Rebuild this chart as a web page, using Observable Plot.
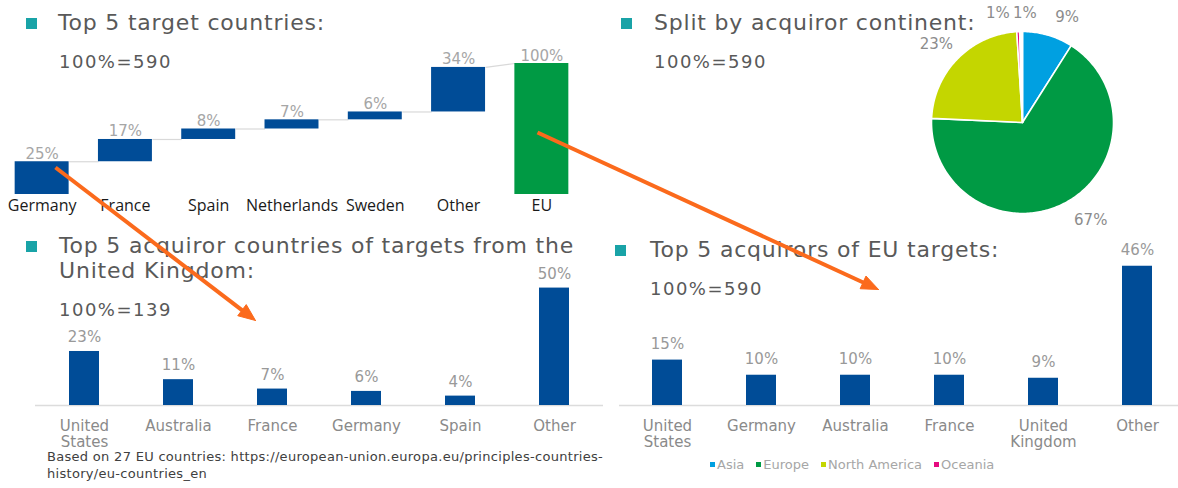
<!DOCTYPE html>
<html><head><meta charset="utf-8">
<script src="https://cdn.jsdelivr.net/npm/d3@7"></script>
<script src="https://cdn.jsdelivr.net/npm/@observablehq/plot@0.6"></script>
<style>
html,body{margin:0;padding:0;background:#fff;}
#page{position:relative;width:1178px;height:488px;overflow:hidden;font-family:"DejaVu Sans",sans-serif;background:#fff;}
#page > *{position:absolute;}
.title{font-size:22px;line-height:25px;letter-spacing:0.8px;color:#595959;white-space:nowrap;}
.bullet{width:11px;height:11px;background:#19a3a7;}
.sub{font-size:18px;line-height:22px;letter-spacing:1.5px;color:#595959;white-space:nowrap;}
.caption{font-size:13px;line-height:15px;letter-spacing:0.3px;color:#404040;white-space:nowrap;}
.legend{font-size:13px;line-height:15px;color:#a6a6a6;display:flex;align-items:center;white-space:nowrap;}
.legend .item{display:flex;align-items:center;margin-right:12px;}
.legend .sw{display:inline-block;width:5px;height:5px;margin-right:2px;}
</style></head><body><div id="page"></div><script>
// ---------- data ----------
const waterfallCategories = ["Germany","France","Spain","Netherlands","Sweden","Other","EU"];
const waterfallValues = [25,17,8,7,6,34,100];
const waterfallIsTotal = [false,false,false,false,false,false,true];

const continentNames = ["Asia","Europe","North America","Oceania","Other"];
const continentShares = [9, 66.8, 23.3, 0.5, 0.5];
const continentLabels = ["9%","67%","23%","1%","1%"];
const legendNames = ["Asia","Europe","North America","Oceania"];

const ukAcquirorCountries = ["United States","Australia","France","Germany","Spain","Other"];
const ukAcquirorShares = [23,11,7,6,4,50];

const euAcquirorCountries = ["United States","Germany","Australia","France","United Kingdom","Other"];
const euAcquirorShares = [15,10,10,10,9,46];

const titleLines = [["Top 5 target countries:"],["Split by acquiror continent:"],["Top 5 acquiror countries of targets from the","United Kingdom:"],["Top 5 acquirors of EU targets:"]];
const subtitleTexts = ["100%=590","100%=590","100%=139","100%=590"];
const captionLines = ["Based on 27 EU countries: https://european-union.europa.eu/principles-countries-","history/eu-countries_en"];

// ---------- styling ----------
const BLUE = "#004c97", GREEN = "#009a44";
const continentColors = ["#00a0e1", "#009a44", "#c4d600", "#e6097f", "#ffffff"];
const ORANGE = "#fb6a1c";
const svgStyle = {overflow:"visible", background:"transparent", fontFamily:"DejaVu Sans"};

const page = document.getElementById("page");
function place(el, left, top){ el.style.left = left+"px"; el.style.top = top+"px"; page.appendChild(el); return el; }

// ---------- panel 1: waterfall ----------
const hw = 0.324;
let cum = 0;
const wf = waterfallCategories.map((c,i) => {
  const total = waterfallIsTotal[i];
  const y1 = total ? 0 : cum;
  const y2 = total ? waterfallValues[i] : cum + waterfallValues[i];
  if (!total) cum = y2;
  return {i, c, y1, y2, kind: total ? "total" : "step", label: waterfallValues[i] + "%"};
});
const connectors = wf.slice(0,-1).map((d,k) => {
  const n = wf[k+1];
  return {x1: d.i + hw, x2: n.i - hw, ya: d.y2, yb: n.kind === "total" ? n.y2 : n.y1};
});
const p1 = Plot.plot({
  width: 583, height: 180, marginLeft: 0, marginRight: 0, marginTop: 23, marginBottom: 26,
  x: {domain: [-0.5, 6.5], label: null},
  y: {domain: [0, 100], axis: null},
  color: {domain: ["step","total"], range: [BLUE, GREEN]},
  style: svgStyle,
  marks: [
    Plot.link(connectors, {x1: "x1", x2: "x2", y1: "ya", y2: "yb", stroke: "#d9d9d9", strokeWidth: 1.2}),
    Plot.rect(wf, {x1: d => d.i - hw, x2: d => d.i + hw, y1: "y1", y2: "y2", fill: "kind"}),
    Plot.text(wf, {x: "i", y: "y2", text: "label", dy: -3, lineAnchor: "bottom", fill: "#a6a6a6", fontSize: 15}),
    Plot.axisX({ticks: wf.map(d => d.i), tickFormat: i => waterfallCategories[i], label: null, tickSize: 0, tickPadding: 5, fontSize: 16, fontFamily: "Open Sans", fill: "#1a1a1a"})
  ]
});
place(p1, 0, 40);

// ---------- panel 2: pie ----------
const pie = d3.pie().sort(null).value(d => d)(continentShares);
const piePts = [];
pie.forEach((p,k) => {
  const name = continentNames[k];
  piePts.push({name, x: 0, y: 0});
  const n = Math.max(2, Math.ceil((p.endAngle - p.startAngle) / (Math.PI/180)));
  for (let j = 0; j <= n; j++) {
    const a = p.startAngle + (p.endAngle - p.startAngle) * j / n;
    piePts.push({name, x: Math.sin(a), y: Math.cos(a)});
  }
  piePts.push({name, x: 0, y: 0});
});
const PIE_W = 298, PIE_H = 240, CX = 142, CY = 122, R = 91, LBL_OFF = 12;
const ctx = document.createElement("canvas").getContext("2d");
ctx.font = "15px 'DejaVu Sans'";
const pieLabels = pie.map((p,k) => {
  const m = (p.startAngle + p.endAngle) / 2;
  const ax = CX + (R + LBL_OFF) * Math.sin(m), ay = CY - (R + LBL_OFF) * Math.cos(m);
  const w = ctx.measureText(continentLabels[k]).width, h = 12;
  const x0 = Math.sin(m) >= 0 ? ax : ax - w;
  const yc = Math.cos(m) >= 0 ? ay - h/2 : ay + h/2;
  return {label: continentLabels[k], x0, w, yc, h};
});
for (let pass = 0; pass < 5; pass++) {
  for (let i = 0; i < pieLabels.length; i++) for (let j = i+1; j < pieLabels.length; j++) {
    const a = pieLabels[i], b = pieLabels[j];
    if (Math.abs(a.yc - b.yc) >= a.h) continue;
    const L = a.x0 <= b.x0 ? a : b, Rr = a.x0 <= b.x0 ? b : a;
    const ov = L.x0 + L.w + 3 - Rr.x0;
    if (ov > 0) { L.x0 -= ov/2; Rr.x0 += ov/2; }
  }
}
pieLabels.forEach(d => { d.x = (d.x0 + d.w/2 - CX) / R; d.y = (CY - d.yc) / R; });
const p2 = Plot.plot({
  width: PIE_W, height: PIE_H, margin: 0,
  x: {domain: [-1, 1], range: [CX - R, CX + R], axis: null},
  y: {domain: [-1, 1], range: [CY + R, CY - R], axis: null},
  color: {domain: continentNames, range: continentColors},
  style: svgStyle,
  marks: [
    Plot.line(piePts, {x: "x", y: "y", z: "name", fill: "name", stroke: "white", strokeWidth: 1.6, curve: "linear"}),
    Plot.text(pieLabels, {x: "x", y: "y", text: "label", dx: 4, textAnchor: "middle", lineAnchor: "middle", fill: "#8c8c8c", fontSize: 15})
  ]
});
place(p2, 880, 0);

// ---------- panels 3 & 4: bars ----------
function barPanel(cats, vals, ymax, width, marginLeft, dy) {
  const data = cats.map((c,i) => ({c, v: vals[i], label: vals[i] + "%"}));
  return Plot.plot({
    width, height: 210, marginLeft, marginRight: 0, marginTop: 0, marginBottom: 55,
    x: {domain: cats, paddingInner: 0.683, paddingOuter: 0.3415, label: null},
    y: {domain: [0, ymax], axis: null},
    style: svgStyle,
    marks: [
      Plot.ruleY([0], {stroke: "#dcdcdc", strokeWidth: 1.5}),
      Plot.barY(data, {x: "c", y: "v", fill: BLUE}),
      Plot.text(data, {x: "c", y: "v", text: "label", dy, lineAnchor: "bottom", fill: "#999999", fontSize: 15}),
      Plot.axisX({label: null, tickSize: 0, tickPadding: 14, fontSize: 15, lineHeight: 1.06, fill: "#8a8a8a", tickFormat: d => d.replace(" ", "\n")})
    ]
  });
}
place(barPanel(ukAcquirorCountries, ukAcquirorShares, 66, 603, 35, -9.5), 0, 250);
place(barPanel(euAcquirorCountries, euAcquirorShares, 51.2, 585, 19, -11), 600, 250);

// ---------- text ----------
const titleLayout = [
  {left: 58, top: 10, bl: 26, bt: 18},
  {left: 654, top: 10, bl: 621, bt: 18},
  {left: 59, top: 233, bl: 26, bt: 241},
  {left: 650, top: 237, bl: 615, bt: 245}
];
const subLayout = [{left: 59, top: 51}, {left: 654, top: 51}, {left: 59, top: 299}, {left: 650, top: 278}];
titleLines.forEach((lines,k) => {
  const L = titleLayout[k];
  const b = document.createElement("div"); b.className = "bullet"; place(b, L.bl, L.bt);
  lines.forEach((t, j) => {
    const d = document.createElement("div"); d.className = "title"; d.textContent = t; place(d, L.left, L.top + 25*j);
  });
  const s = document.createElement("div"); s.className = "sub"; s.textContent = subtitleTexts[k]; place(s, subLayout[k].left, subLayout[k].top);
});
captionLines.forEach((line, i) => {
  const cap = document.createElement("div"); cap.className = "caption"; cap.textContent = line;
  place(cap, 47, 449 + 16.5*i);
});
const leg = document.createElement("div"); leg.className = "legend";
legendNames.forEach(n => {
  const it = document.createElement("span"); it.className = "item";
  const sw = document.createElement("span"); sw.className = "sw"; sw.style.background = continentColors[continentNames.indexOf(n)];
  it.appendChild(sw); it.appendChild(document.createTextNode(n)); leg.appendChild(it);
});
place(leg, 710, 457);

// ---------- orange arrows (annotation overlay, page pixel coordinates) ----------
const arrowFromX = [55, 537], arrowFromY = [167, 132], arrowToX = [255, 878], arrowToY = [320, 289];
const HEAD_L = 17, HEAD_W = 14;
const shafts = [], heads = [];
arrowFromX.forEach((_, k) => {
  const x0 = arrowFromX[k], y0 = arrowFromY[k], x1 = arrowToX[k], y1 = arrowToY[k];
  const len = Math.hypot(x1 - x0, y1 - y0), ux = (x1 - x0)/len, uy = (y1 - y0)/len;
  const bx = x1 - ux*HEAD_L, by = y1 - uy*HEAD_L;
  shafts.push({x1: x0, y1: y0, x2: bx + ux*2, y2: by + uy*2});
  heads.push({k, x: x1, y: y1}, {k, x: bx - uy*HEAD_W/2, y: by + ux*HEAD_W/2}, {k, x: bx + uy*HEAD_W/2, y: by - ux*HEAD_W/2}, {k, x: x1, y: y1});
});
const overlay = Plot.plot({
  width: 1178, height: 488, margin: 0,
  x: {domain: [0, 1178], range: [0, 1178], axis: null},
  y: {domain: [0, 488], range: [0, 488], axis: null},
  style: {background: "transparent", pointerEvents: "none"},
  marks: [
    Plot.link(shafts, {x1: "x1", y1: "y1", x2: "x2", y2: "y2", stroke: ORANGE, strokeWidth: 4}),
    Plot.line(heads, {x: "x", y: "y", z: "k", fill: ORANGE, stroke: ORANGE, strokeWidth: 1, curve: "linear"})
  ]
});
place(overlay, 0, 0);
</script></body></html>
